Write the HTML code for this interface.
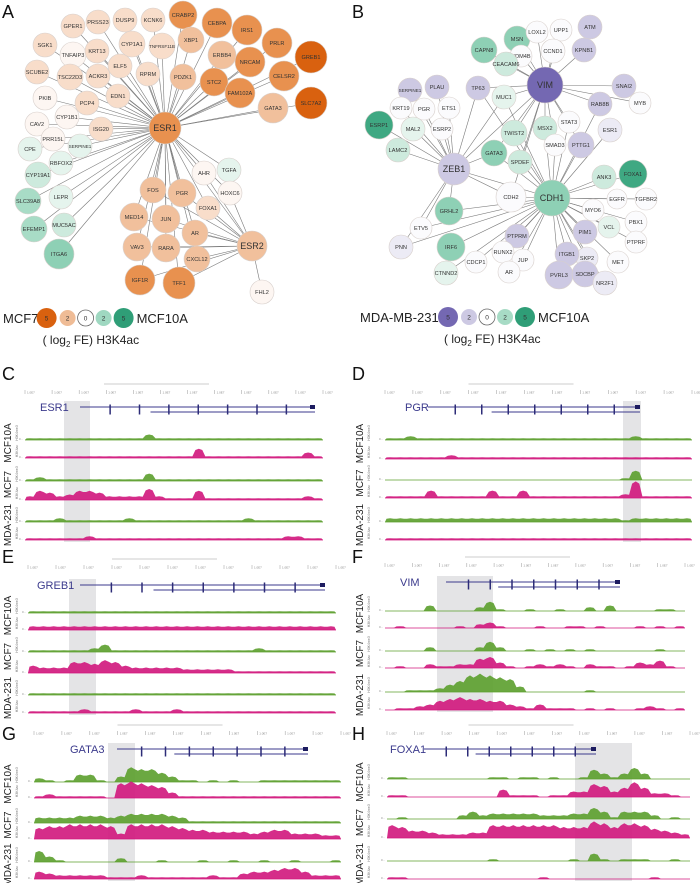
<!DOCTYPE html>
<html><head><meta charset="utf-8"><style>
html,body{margin:0;padding:0;background:#fff;}
svg{display:block;font-family:"Liberation Sans",sans-serif;}
</style></head><body>
<svg id="fig" width="700" height="883" viewBox="0 0 700 883" xmlns="http://www.w3.org/2000/svg">
<g id="netA"></g>
<g id="netB"></g>
<g id="tracks"></g>
<g font-size="18" fill="#111">
<text x="2" y="18">A</text>
<text x="352" y="18">B</text>
<text x="2" y="380">C</text>
<text x="352" y="380">D</text>
<text x="2" y="563">E</text>
<text x="352" y="563">F</text>
<text x="2" y="740">G</text>
<text x="352" y="740">H</text>
</g>
</svg>
<script>
const NS='http://www.w3.org/2000/svg';
function mk(tag,attrs,parent){const e=document.createElementNS(NS,tag);for(const k in attrs)e.setAttribute(k,attrs[k]);parent.appendChild(e);return e;}
const COL={o5:'#d9610f',o4:'#e8914f',o3:'#f1c09c',o2:'#f8ddca',w:'#fdf6f2',g1:'#e5f4ed',g2:'#cdeadd',g3:'#a8dcc6',g4:'#3fa882',gm:'#8ed0b5',p1:'#ecebf5',p2:'#cdc9e3',p5:'#7468b2',ww:'#fbfbfd'};
const nodesA=[
['ESR1',165,128,16,'o4'],['GPER1',73,26,12,'o2'],['PRSS23',98,22,12,'o2'],['DUSP9',125,20,12,'o2'],['KCNK6',153,20,12,'o2'],['CRABP2',183,15,14,'o4'],['CEBPA',217,23,15,'o4'],['IRS1',247,30,15,'o4'],['PRLR',277,43,15,'o4'],['GREB1',311,57,16,'o5'],
['SGK1',45,45,12,'o2'],['TNFAIP3',73,55,13,'w'],['KRT13',97,51,12,'o2'],['CYP1A1',132,44,13,'o2'],['TNFRSF11B',162,46,13,'o2'],['XBP1',191,40,13,'o3'],['ERBB4',222,55,14,'o3'],['NRCAM',250,62,15,'o4'],['CELSR2',284,76,15,'o4'],
['SCUBE2',37,72,12,'o2'],['TSC22D3',70,77,13,'o2'],['ACKR3',98,76,12,'o2'],['ELF5',120,66,12,'o2'],['RPRM',148,74,12,'o2'],['PDZK1',183,77,13,'o3'],['STC2',214,82,14,'o4'],['FAM102A',240,93,15,'o4'],['SLC7A2',311,103,16,'o5'],['GATA3',273,108,15,'o3'],
['PKIB',45,98,12,'w'],['PCP4',87,103,12,'o2'],['EDN1',118,96,12,'o2'],['CAV2',37,124,12,'w'],['CYP1B1',67,117,12,'w'],['ISG20',101,129,12,'o2'],['PRR15L',53,139,12,'w'],['CPE',30,149,12,'g1'],['SERPINE1',80,146,12,'g1'],['RBFOX2',61,163,12,'g1'],['CYP19A1',38,175,13,'g2'],
['TGFA',229,170,12,'g1'],['AHR',204,173,12,'w'],['HOXC6',230,193,12,'w'],['FOS',153,190,13,'o3'],['PGR',182,193,14,'o3'],['FOXA1',208,208,12,'o2'],['LEPR',61,197,12,'g1'],['SLC39A8',28,201,13,'g3'],['MUC5AC',64,225,12,'g2'],
['MED14',134,217,14,'o3'],['JUN',166,219,14,'o3'],['AR',195,233,13,'o3'],['EFEMP1',34,229,13,'g3'],['ITGA6',59,254,15,'gm'],['VAV3',137,247,14,'o3'],['RARA',166,248,14,'o3'],['ESR2',252,246,15,'o3'],['CXCL12',197,259,13,'o3'],['IGF1R',140,280,15,'o4'],['TFF1',179,283,16,'o4'],['FHL2',262,292,12,'w']];
const esr2Targets=['FOS','PGR','FOXA1','JUN','AR','RARA','CXCL12','TFF1','VAV3','MED14','HOXC6','AHR','FHL2','IGF1R'];
const nodesB=[
['VIM',545,85,18,'p5'],['CDH1',552,198,18,'gm'],['ZEB1',454,169,16,'p2'],['CDH2',511,197,15,'ww'],
['MSN',517,39,13,'gm'],['CAPN8',484,50,13,'gm'],['LOXL2',537,32,11,'ww'],['UPP1',561,30,11,'ww'],['ATM',590,27,12,'p2'],['KDM4B',521,56,11,'ww'],['CCND1',553,51,12,'ww'],['KPNB1',584,50,12,'p2'],['CEACAM6',506,64,12,'g2'],
['SERPINE1',410,90,12,'p2'],['PLAU',437,87,12,'p2'],['TP63',478,88,12,'p2'],['MUC1',504,97,12,'g1'],['SNAI2',624,86,12,'p2'],['MYB',640,103,11,'ww'],['RAB8B',600,104,12,'p2'],
['KRT19',401,108,11,'ww'],['PGR',424,109,11,'ww'],['ETS1',449,108,11,'ww'],['ESRP1',379,125,14,'g4'],['MAL2',413,129,12,'g1'],['ESRP2',442,129,11,'ww'],['TWIST2',514,133,13,'g2'],['MSX2',545,128,12,'g2'],['STAT3',569,122,11,'ww'],['ESR1',610,130,12,'p1'],['SMAD3',555,145,11,'ww'],['PTTG1',581,145,13,'p2'],
['LAMC2',398,150,12,'g2'],['GATA3',494,153,13,'gm'],['SPDEF',520,162,12,'g2'],['ANK3',604,177,12,'g2'],['FOXA1',633,174,14,'g4'],['EGFR',617,199,10,'ww'],['TGFBR2',646,199,11,'ww'],['MYO6',593,210,11,'ww'],['PBX1',636,222,11,'ww'],
['GRHL2',449,211,14,'gm'],['ETV5',421,228,11,'ww'],['VCL',609,227,11,'g1'],['PIM1',585,232,12,'p2'],['PTPRF',636,242,11,'ww'],['PNN',401,247,12,'p1'],['PTPRM',517,236,12,'p2'],['IRF6',451,247,14,'gm'],['RUNX2',503,252,11,'ww'],['JUP',523,260,11,'ww'],['CDCP1',476,262,11,'ww'],
['SKP2',587,258,11,'p1'],['MET',618,262,11,'ww'],['ITGB1',567,254,12,'p2'],['CTNND2',446,273,12,'g1'],['AR',509,272,11,'ww'],['PVRL3',559,275,14,'p2'],['SDCBP',585,274,13,'p2'],['NR2F1',605,283,12,'p1']];
const vimTargets=['MSN','CAPN8','LOXL2','UPP1','KDM4B','CCND1','KPNB1','CEACAM6','TP63','MUC1','SNAI2','MYB','RAB8B','TWIST2','MSX2','STAT3','PTTG1','SMAD3','GATA3','SPDEF','ZEB1','CDH2'];
const cdh1Targets=['ZEB1','CDH2','GATA3','TWIST2','SPDEF','MSX2','SMAD3','PTTG1','ESR1','RAB8B','ANK3','FOXA1','EGFR','MYO6','PBX1','VCL','PIM1','PTPRF','SKP2','MET','ITGB1','PVRL3','SDCBP','NR2F1','PTPRM','JUP','AR','RUNX2','GRHL2','ETV5','PNN','IRF6','CDCP1','CTNND2','TP63','MUC1','STAT3','TGFBR2'];
const zebTargets=['SERPINE1','PLAU','KRT19','PGR','ETS1','ESRP1','MAL2','ESRP2','LAMC2','TP63','GATA3','GRHL2','ETV5','PNN','CDH2','MUC1'];

function drawNet(g,nodes,hubs,bigNames){
  const idx={};nodes.forEach(n=>idx[n[0]]=n);
  const eg=mk('g',{stroke:'#7a7a7a','stroke-width':0.6},g);
  hubs.forEach(([h,list])=>{const a=idx[h];list.forEach(t=>{const b=idx[t];if(!b)return;
    const l=mk('line',{x1:a[1],y1:a[2],x2:b[1],y2:b[2]},eg);
    
    });});
  nodes.forEach(n=>{
    const c=mk('circle',{cx:n[1],cy:n[2],r:n[3],fill:COL[n[4]],stroke:'#d8d0cc','stroke-width':0.6},g);
    
    
    const big=bigNames.includes(n[0]);
    const t=mk('text',{x:n[1],y:n[2]+(big?3:2),'text-anchor':'middle','font-size':big?9:(n[0].length>7?4.6:5.6),fill:'#333'},g);
    t.textContent=n[0];
    
    
  });
}
const gA=document.getElementById('netA');
drawNet(gA,nodesA,[['ESR1',nodesA.slice(1).map(n=>n[0]).filter(n=>n!=='FHL2')],['ESR2',esr2Targets]],['ESR1','ESR2']);
const gB=document.getElementById('netB');
drawNet(gB,nodesB,[['VIM',vimTargets],['CDH1',cdh1Targets],['ZEB1',zebTargets]],['VIM','CDH1','ZEB1']);

function legend(g,x0,y,lab1,lab2,cols,name){
  const lg=mk('g',{},g);
  
  
  const t1=mk('text',{x:x0,y:y+5,'font-size':13,fill:'#222'},lg);t1.textContent=lab1;
  
  
  const w=lab1.length*7.4+x0+8;
  const cx=[w+6,w+27,w+45,w+63,w+83];const rr=[10,8,8,8,10];const lbl=['5','2','0','2','5'];
  cx.forEach((c,i)=>{const ci=mk('circle',{cx:c,cy:y,r:rr[i],fill:cols[i],stroke:i===2?'#666':'none','stroke-width':0.8},lg);
    
    
    const tt=mk('text',{x:c,y:y+2.5,'text-anchor':'middle','font-size':6.5,fill:'#333'},lg);tt.textContent=lbl[i];});
  const t2=mk('text',{x:w+96,y:y+5,'font-size':13,fill:'#222'},lg);t2.textContent=lab2;
  
  
  const t3=mk('text',{x:w+2,y:y+26,'font-size':12,fill:'#222'},lg);
  t3.innerHTML='( log<tspan font-size="8" dy="3">2</tspan><tspan dy="-3"> FE) H3K4ac</tspan>';
  
  
}
legend(gA,3,318,'MCF7','MCF10A',['#d9610f','#efbc96','#fff','#9fd8c1','#2f9e77'],'legend-a');
legend(gB,360,317,'MDA-MB-231','MCF10A',['#7468b2','#cdc9e3','#fff','#a7dbc5','#2f9e77'],'legend-b');

const C10g=[1,1,1,1,1,1,1,1,1,1,1,1,3,1,1,1,1,1,1,1,1,1,1,1,1,1,1,1,1,1];
const C10p=[1,1,1,1,1,1,1,1,1,1,1,1,1,1,1,1,1,5,1,1,1,1,1,1,1,1,1,1,3,1];
const C7g=[1,2,1,1,1,1,1,1,1,1,1,1,4,1,1,1,1,1,1,1,1,1,1,1,1,1,1,1,1,1];
const C7p=[2,5,4,2,3,5,5,4,2,2,2,2,6,2,1,1,1,5,1,1,1,1,1,1,1,1,1,1,2,1];
const CMg=[1,1,1,2,1,1,1,1,1,1,2,1,1,1,1,1,1,1,1,1,1,1,2,1,1,1,1,1,1,1];
const CMp=[1,1,1,1,1,1,2,1,1,1,1,1,1,1,1,1,1,1,1,1,1,1,1,1,1,1,2,2,1,1];
const D10g=[1,1,2,1,1,1,1,1,1,1,1,1,1,1,1,1,1,1,1,1,1,1,1,1,2,1,1,1,1,1];
const D10p=[1,1,1,1,1,1,2,1,1,1,1,1,1,1,1,1,1,1,1,1,1,1,1,1,1,1,1,1,1,1];
const D7g=[0,0,0,0,0,0,0,0,0,0,0,0,0,0,0,0,0,0,0,0,0,0,0,1,5,0,0,0,0,0];
const D7p=[1,1,1,1,4,1,1,1,1,1,4,1,1,4,1,1,1,1,1,1,1,1,1,2,9,1,1,1,1,1];
const DMg=[2,2,2,2,2,2,2,2,2,2,2,2,2,2,2,2,2,2,2,2,2,2,2,1,2,2,2,2,2,2];
const DMp=[1,1,1,1,1,1,1,1,1,1,1,1,1,1,1,1,1,1,1,1,1,1,1,1,1,1,1,1,1,1];
const E10g=[1,1,1,1,1,1,1,1,1,1,1,1,1,1,1,1,1,1,1,1,1,1,1,1,1,1,1,1,1,1];
const E10p=[2,2,2,2,2,2,2,2,2,2,2,2,2,2,2,2,2,2,2,2,2,2,2,2,2,2,2,2,2,2];
const E7g=[1,1,1,1,1,1,2,4,1,1,1,1,1,1,1,1,1,1,1,1,1,1,2,1,1,1,1,1,1,1];
const E7p=[4,3,3,3,6,6,5,7,6,4,3,3,3,3,3,2,2,2,2,2,1,1,1,1,1,1,1,1,1,1];
const EMg=[1,1,1,1,1,1,1,1,1,1,1,1,1,1,1,1,1,1,1,1,1,1,1,1,1,1,1,1,1,1];
const EMp=[1,1,1,1,1,2,1,1,1,1,2,1,1,1,2,1,1,1,1,1,1,1,1,1,1,1,1,1,1,1];
const F10g=[0,0,0,0,3,0,0,0,0,2,5,1,0,0,1,0,0,1,0,0,2,0,3,0,0,0,0,1,1,0];
const F10p=[0,1,0,0,0,0,0,1,0,2,3,1,0,0,0,1,0,0,1,1,0,1,0,0,0,1,0,1,0,1];
const F7g=[0,0,0,0,2,0,0,0,0,2,5,2,0,0,1,0,1,0,1,0,1,0,0,0,0,0,0,1,0,0];
const F7p=[0,1,0,0,2,1,1,2,2,5,6,3,1,0,1,2,1,2,1,0,2,1,1,0,1,3,2,4,1,0];
const FMg=[0,0,1,1,1,2,4,6,9,10,9,8,7,3,0,0,0,0,0,0,1,0,0,0,0,0,0,0,0,0];
const FMp=[0,1,1,2,3,5,6,7,6,6,5,5,3,2,1,3,1,1,1,0,1,0,1,0,0,1,2,1,0,1];
const G10g=[2,1,0,1,4,4,1,0,3,8,7,7,5,3,1,1,0,1,0,1,0,0,1,1,1,1,1,1,1,1];
const G10p=[1,2,1,1,1,1,1,0,8,9,8,7,6,3,1,1,1,1,1,1,1,1,1,1,1,1,1,1,1,1];
const G7g=[3,3,3,3,4,4,4,3,4,5,5,5,5,4,3,1,1,1,1,1,1,1,1,1,1,1,1,1,1,1];
const G7p=[6,7,7,8,8,8,8,7,3,8,8,8,8,7,6,5,5,4,4,4,4,3,4,5,5,3,3,3,2,2];
const GMg=[6,3,1,0,0,0,0,0,2,0,0,0,1,0,0,0,1,0,0,1,0,0,1,0,0,1,0,0,0,1];
const GMp=[4,3,2,2,2,2,2,1,1,1,2,1,1,1,1,1,1,2,1,1,3,4,4,5,6,6,4,2,2,2];
const H10g=[1,1,0,0,0,0,0,0,0,0,1,1,0,1,1,0,1,0,0,1,5,3,1,3,6,3,0,0,0,0];
const H10p=[1,1,0,0,0,0,0,0,0,0,0,4,1,1,1,0,1,1,3,3,7,6,3,5,8,5,2,2,1,0];
const H7g=[0,1,0,0,0,0,0,2,4,2,3,3,3,3,3,2,2,2,3,3,6,4,1,4,4,4,2,0,1,0];
const H7p=[7,6,4,4,3,2,2,2,3,3,7,7,7,7,7,7,7,6,6,6,9,8,6,8,8,7,5,4,3,2];
const HMg=[0,0,0,0,0,0,0,0,0,0,1,0,0,0,0,0,0,0,1,0,4,1,0,1,1,1,0,0,1,0];
const HMp=[1,1,0,0,0,0,0,0,0,0,0,0,0,0,0,1,0,0,0,0,0,0,0,0,0,0,1,0,0,0];
const geneNames=['ESR1','PGR','GREB1','VIM','GATA3','FOXA1'];

const panels=[
 {id:'c',gene:geneNames[0],x0:25,x1:323,sh:[64,90],ruler:392,gy:407,gx:[80,315],lx:40,base:[440,458,481,500,522,540],d:[C10g,C10p,C7g,C7p,CMg,CMp]},
 {id:'d',gene:geneNames[1],x0:385,x1:692,sh:[623,641],ruler:392,gy:407,gx:[428,640],lx:405,base:[440,459,480,498,522,540],d:[D10g,D10p,D7g,D7p,DMg,DMp]},
 {id:'e',gene:geneNames[2],x0:28,x1:336,sh:[69,96],ruler:567,gy:585,gx:[80,325],lx:37,base:[613,630,652,673,695,713],d:[E10g,E10p,E7g,E7p,EMg,EMp]},
 {id:'f',gene:geneNames[3],x0:385,x1:685,sh:[437,493],ruler:565,gy:582,gx:[446,620],lx:400,base:[611,628,651,668,692,710],d:[F10g,F10p,F7g,F7p,FMg,FMp]},
 {id:'g',gene:geneNames[4],x0:34,x1:341,sh:[108,135],ruler:733,gy:749,gx:[117,308],lx:70,base:[782,798,823,839,862,879],d:[G10g,G10p,G7g,G7p,GMg,GMp]},
 {id:'h',gene:geneNames[5],x0:387,x1:690,sh:[575,632],ruler:733,gy:749,gx:[424,596],lx:390,base:[779,797,819,838,861,879],d:[H10g,H10p,H7g,H7p,HMg,HMp]}
];
const TG=document.getElementById('tracks');
const cellLines=['MCF10A','MCF7','MDA-231'];
panels.forEach(p=>{
  const g=mk('g',{},TG);
  
  
  const sh=mk('rect',{x:p.sh[0],y:p.gy-6,width:p.sh[1]-p.sh[0],height:p.base[5]-p.gy+8,fill:'#e4e4e6'},g);
  
  
  const r=mk('g',{stroke:'#999','stroke-width':0.5},g);
  
  
  const n=12;for(let i=0;i<n;i++){const x=p.x0+i*(p.x1-p.x0)/(n-1);mk('line',{x1:x,y1:p.ruler-2,x2:x,y2:p.ruler+2},r);
    const t=mk('text',{x:x+2,y:p.ruler+1.5,'font-size':3,fill:'#888',stroke:'none'},r);t.textContent='1.0E7';}
  const mid=(p.x0+p.x1)/2;mk('line',{x1:mid-70,y1:p.ruler-8,x2:mid+35,y2:p.ruler-8},r);
  const gm=mk('g',{},g);
  
  
  mk('line',{x1:p.gx[0],y1:p.gy,x2:p.gx[1],y2:p.gy,stroke:'#3b3a8c','stroke-width':0.9},gm);
  mk('line',{x1:p.gx[0]+(p.gx[1]-p.gx[0])*0.3,y1:p.gy+5,x2:p.gx[1],y2:p.gy+5,stroke:'#3b3a8c','stroke-width':0.9},gm);
  for(let i=1;i<8;i++){const x=p.gx[0]+i*(p.gx[1]-p.gx[0])/8;mk('rect',{x:x,y:p.gy-2.5,width:1.5,height:10,fill:'#2d2c78'},gm);}
  mk('rect',{x:p.gx[1]-5,y:p.gy-2,width:5,height:4,fill:'#1d1c60'},gm);
  const gl=mk('text',{x:p.lx,y:p.gy+4,'font-size':11,fill:'#3b3a8c'},g);gl.textContent=p.gene;
  
  
  const lx=(p.id==='c'||p.id==='e'||p.id==='g')?11:363;
  cellLines.forEach((cl,i)=>{const cy=(p.base[i*2]+p.base[i*2+1])/2-6;
    const t=mk('text',{x:lx,y:cy,'font-size':10,fill:'#222','text-anchor':'middle',transform:'rotate(-90 '+lx+' '+cy+')'},g);
    t.textContent=cl;
    
    
    ['H3K4me3','H3K4ac'].forEach((m,j)=>{const yy=p.base[i*2+j]-7,xx=lx+7;
      const s=mk('text',{x:xx,y:yy,'font-size':3.5,fill:'#777','text-anchor':'middle',transform:'rotate(-90 '+xx+' '+yy+')'},g);s.textContent=m;});
  });
  p.d.forEach((arr,k)=>{
    const col=k%2===0?'#5b9f2c':'#d0167c';
    const y0=p.base[k];const w=(p.x1-p.x0)/arr.length;
    let d='M'+p.x0+','+y0;
    arr.forEach((v,i)=>{const h=v*1.6;const xa=p.x0+i*w;
      d+=' L'+(xa+w*0.15).toFixed(1)+','+(y0-h).toFixed(1)+' L'+(xa+w*0.5).toFixed(1)+','+(y0-h*1.15).toFixed(1)+' L'+(xa+w*0.85).toFixed(1)+','+(y0-h).toFixed(1);});
    d+=' L'+p.x1+','+y0+' Z';
    const path=mk('path',{d:d,fill:col,opacity:0.9},g);
    
    
    mk('line',{x1:p.x0,y1:y0,x2:p.x1,y2:y0,stroke:col,'stroke-width':0.8},g);
    const tk=mk('text',{x:p.x0-6,y:y0,'font-size':3,fill:'#888'},g);tk.textContent='0 -';
  });
});
</script>
</body></html>
